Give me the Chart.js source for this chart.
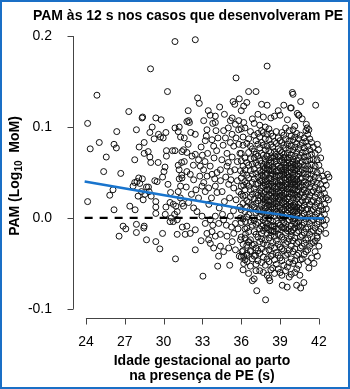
<!DOCTYPE html>
<html>
<head>
<meta charset="utf-8">
<script src="https://cdn.jsdelivr.net/npm/chart.js@4.4.1/dist/chart.umd.min.js"></script>
<style>
  html, body { margin: 0; padding: 0; background: #fff; }
  canvas { display: block; }
</style>
</head>
<body>
<canvas id="pamChart" width="350" height="389"></canvas>
<script>
// Eixos
const xTicks = [24, 27, 30, 33, 36, 39, 42];
const yTicks = [-0.1, 0.0, 0.1, 0.2];

// Casos até ~31 s, lidos ponto a ponto [idade gestacional, PAM]
const earlyCases = [
  [30.88,.194],[28.99,.164],[30.30,.139],[24.85,.135],[27.31,.117],[28.34,.110],[28.38,.111],[29.40,.110],
  [29.81,.108],[24.13,.104],[26.38,.095],[27.90,.097],[29.12,.100],[28.94,.094],[29.27,.087],[29.61,.092],
  [29.76,.089],[29.97,.088],[30.18,.094],[30.88,.099],[31.21,.100],[31.13,.095],[31.31,.089],[28.50,.083],
  [28.11,.078],[26.17,.081],[26.35,.077],[25.03,.083],[24.33,.076],[25.57,.067],[27.77,.064],[28.81,.073],
  [28.50,.071],[28.94,.067],[29.01,.061],[29.58,.061],[30.22,.068],[30.22,.074],[30.69,.074],[30.88,.074],
  [31.42,.073],[31.13,.058],[31.39,.061],[25.37,.051],[26.69,.049],[24.13,.018],[26.09,.031],[25.84,.025],
  [26.17,.009],[27.39,.013],[27.80,.009],[27.64,.035],[27.77,.039],[27.95,.040],[28.08,.044],[28.36,.043],
  [28.16,.038],[28.29,.029],[28.03,.024],[28.55,.026],[28.42,.020],[28.68,.034],[28.83,.034],[28.88,.029],
  [29.04,.024],[29.32,.041],[29.50,.040],[29.40,.018],[29.40,.012],[29.40,.005],[29.92,.045],[30.03,.051],
  [30.11,.056],[30.34,.037],[30.54,.028],[30.50,.017],[30.18,.012],[30.13,.004],[30.75,.015],[30.95,.013],
  [31.05,.007],[30.85,.004],[30.60,.000],[30.50,-.004],[30.75,-.004],[31.05,-.002],[31.21,.043],[31.31,.035],
  [31.13,.029],[26.87,-.009],[27.08,-.012],[26.56,-.020],[27.90,-.007],[28.50,-.009],[28.47,-.011],[27.90,-.016],
  [28.68,-.024],[29.40,-.026],[29.71,-.034],[29.92,-.017],[31.05,-.018],[30.92,-.045],[31.30,.022],[31.45,.016],
  [31.20,.053],[31.40,.047],[31.45,-.010]
];

// Casos entre ~31 e ~37 s e valores extremos
const midCases = [
  [32.45,.196],[35.60,.154],[38.00,.167],[32.63,.132],[32.76,.126],[35.37,.128],[35.50,.125],[34.33,.122],
  [36.19,.123],[33.60,.113],[34.00,.112],[33.10,.107],[33.80,.104],[34.00,.105],[31.80,.106],[32.00,.105],
  [31.93,.107],[35.16,.107],[35.55,.103],[35.81,.107],[36.19,.105],[32.45,.092],[33.35,.097],[33.30,.090],
  [33.22,.085],[33.74,.086],[33.87,.079],[34.64,.096],[34.78,.088],[35.29,.092],[35.16,.083],[35.42,.079],
  [35.81,.081],[31.54,.075],[31.80,.072],[32.20,.068],[32.45,.070],[32.70,.064],[32.84,.057],[33.09,.053],
  [33.36,.046],[33.74,.048],[34.13,.050],[34.39,.053],[34.90,.057],[35.16,.051],[31.80,.051],[32.06,.048],
  [31.42,.044],[32.32,.042],[32.97,.035],[33.22,.029],[33.48,.033],[34.00,.035],[34.13,.028],[34.52,.029],
  [35.03,.037],[35.42,.033],[35.81,.029],[36.19,.036],[31.54,.013],[31.93,.017],[32.32,.011],[32.58,.007],
  [32.97,.002],[33.22,-.006],[33.61,-.002],[34.00,.002],[34.26,-.006],[34.64,-.002],[35.16,.002],[35.55,-.006],
  [35.94,.000],[36.33,-.004],[31.80,-.009],[32.06,-.017],[31.67,-.018],[32.45,-.013],[33.35,-.017],[33.74,-.015],
  [33.48,-.024],[34.00,-.020],[34.39,-.018],[34.90,-.020],[35.42,-.017],[35.94,-.024],[36.33,-.018],[36.58,-.026],
  [33.61,-.028],[33.87,-.033],[34.39,-.031],[34.64,-.037],[35.03,-.033],[35.55,-.035],[36.07,-.037],[36.19,-.042],
  [36.45,-.041],[36.71,-.037],[37.10,-.041],[32.45,-.035],[34.18,-.053],[35.11,-.052],[36.19,-.050],[36.45,-.048],
  [33.04,-.064],[37.00,-.067],[37.20,-.080],[37.88,-.090],[38.21,-.069],[39.17,-.074],[39.55,-.076],[40.28,-.074],
  [40.59,-.077],[40.84,-.071],[40.53,-.063],[41.23,-.055],[39.95,.138],[40.00,.136],[40.59,.128],[41.75,.124],
  [39.81,.121],[40.33,.115],[40.46,.113],[41.03,.103],[41.10,.099],[41.23,.097],[41.88,.081],[41.96,.075],
  [42.14,.066],[42.66,.048],[42.78,.045],[42.74,.020],[42.53,-.017],[41.88,-.022],[42.00,-.031],[41.88,-.042],
  [41.62,-.050],[31.60,.088],[31.90,.081],[32.10,.094],[32.30,.058],[32.50,.031],[32.70,.022],[32.90,.078],
  [33.00,.069],[33.20,.062],[33.40,.071],[33.50,.015],[33.60,.057],[33.70,.022],[33.90,.066],[34.10,.074],
  [34.20,.088],[34.30,.011],[34.40,.041],[34.50,.064],[34.60,.080],[34.70,.018],[34.80,.045],[34.90,.071],
  [35.00,.099],[35.00,.061],[35.10,.022],[35.20,.042],[35.30,.067],[35.30,.110],[35.40,.008],[35.50,.053],
  [35.60,.088],[35.60,.020],[35.70,.062],[35.70,.041],[35.80,.097],[35.90,.071],[35.90,.012],[35.95,.052],
  [36.00,.118],[34.05,.096],[33.95,.043],[33.10,.039],[32.80,.046],[32.15,.026],[31.75,.034],[31.60,.062],
  [34.55,.004],[35.25,-.010],[35.75,-.012],[34.85,-.008],[33.80,-.008],[32.90,-.025],[35.30,-.026],[35.85,-.042],
  [34.25,-.042],[31.90,.118],[33.45,.118],[34.70,.114],[35.85,.131]
];

// Partos a termo: uma coluna por dia de idade gestacional
const termGA = [
  36.00,36.14,36.29,36.43,36.57,36.71,36.86,37.00,37.14,37.29,37.43,37.57,37.71,37.86,
  38.00,38.14,38.29,38.43,38.57,38.71,38.86,39.00,39.14,39.29,39.43,39.57,39.71,39.86,
  40.00,40.14,40.29,40.43,40.57,40.71,40.86,41.00,41.14,41.29,41.43,41.57,41.71,41.86,
  42.00,42.14,42.29,42.43,42.57
];
const termPAM = [
  [.098,.071,.063,.044,.035,.026,.009,-.005,-.021,-.043],
  [.089,.080,.057,.049,.024,.016,-.001,-.029,-.036,-.057],
  [.099,.066,.053,.040,.031,.025,.007,-.012,-.022,-.046],
  [.127,.082,.061,.047,.038,.019,.012,.001,-.011,-.030,-.039],
  [.139,.087,.072,.058,.044,.035,.017,.004,-.015,-.027,-.061],
  [.095,.079,.065,.052,.031,.023,.010,-.004,-.024,-.036,-.053],
  [.109,.076,.059,.048,.039,.026,.014,.000,-.008,-.030,-.045,-.069],
  [.104,.091,.073,.066,.054,.043,.032,.021,.012,-.003,-.015,-.029,-.042],
  [.139,.085,.070,.061,.049,.037,.028,.016,.006,-.007,-.018,-.033,-.051,-.058],
  [.114,.093,.081,.068,.058,.045,.038,.025,.019,.008,-.005,-.021,-.036,-.047],
  [.102,.089,.077,.063,.052,.041,.030,.022,.010,.001,-.012,-.026,-.039,-.058],
  [.125,.096,.083,.071,.060,.050,.042,.033,.024,.014,.004,-.009,-.023,-.034,-.049,.029,.047,.008,-.017],
  [.111,.094,.080,.069,.057,.046,.039,.027,.017,.007,-.002,-.014,-.028,-.043,-.060,.053,.021,.035,-.008],
  [.100,.087,.075,.065,.055,.047,.036,.029,.020,.011,.000,-.011,-.024,-.037,-.052,.042,.016,.061,-.004],
  [.124,.092,.079,.068,.058,.049,.040,.031,.023,.013,.005,-.006,-.017,-.030,-.045,-.063,.037,.054,.019,-.011],
  [.098,.086,.074,.064,.053,.044,.035,.026,.018,.009,-.001,-.013,-.022,-.035,-.048,-.066,.031,.058,.006,.014],
  [.110,.093,.081,.072,.061,.052,.043,.037,.028,.019,.012,.003,-.008,-.019,-.031,-.042,-.057,.047,.024,.066,-.014],
  [.090,.078,.066,.056,.048,.039,.030,.022,.015,.006,-.004,-.015,-.027,-.040,-.055,.035,.052,.011,-.009],
  [.112,.084,.073,.062,.054,.045,.034,.027,.019,.010,.002,-.009,-.020,-.033,-.046,-.061,.040,.023,.068,-.015],
  [.095,.082,.070,.059,.051,.041,.032,.024,.016,.007,-.003,-.012,-.025,-.038,-.051,.028,.046,.063,.012],
  [.118,.088,.076,.067,.057,.047,.038,.029,.021,.013,.004,-.006,-.018,-.029,-.041,-.056,.034,.052,-.012,.017],
  [.113,.085,.074,.063,.055,.046,.036,.028,.020,.011,.002,-.008,-.019,-.032,-.044,-.060,.041,.024,.068,.006],
  [.094,.083,.072,.064,.056,.048,.040,.033,.025,.017,.009,.000,-.010,-.021,-.034,-.047,-.063,.029,.052,.004,.036],
  [.124,.091,.080,.070,.061,.053,.044,.035,.027,.018,.010,.001,-.011,-.024,-.036,-.052,.048,.022,.066,-.005],
  [.099,.087,.077,.067,.058,.050,.042,.034,.026,.019,.012,.003,-.007,-.016,-.028,-.041,-.058,.038,.055,.015,-.012],
  [.108,.081,.071,.060,.051,.043,.036,.028,.021,.013,.005,-.004,-.014,-.026,-.039,-.054,.032,.047,.009,.064],
  [.096,.085,.075,.066,.057,.049,.041,.032,.023,.015,.007,-.002,-.012,-.023,-.035,-.049,-.065,.027,.045,.061,.011],
  [.121,.090,.079,.069,.059,.050,.042,.034,.026,.018,.009,.001,-.009,-.020,-.031,-.045,-.062,.038,.055,.013,-.015],
  [.097,.086,.075,.065,.056,.047,.039,.031,.022,.014,.006,-.003,-.013,-.025,-.037,-.050,.043,.027,.061,.002],
  [.101,.089,.078,.068,.058,.049,.040,.032,.025,.016,.008,-.001,-.011,-.022,-.034,-.047,-.060,.036,.053,.012,-.006],
  [.093,.082,.072,.063,.054,.046,.037,.029,.021,.012,.004,-.006,-.016,-.028,-.041,-.056,.042,.025,.059,.008],
  [.113,.087,.076,.066,.057,.048,.039,.030,.023,.015,.006,-.004,-.014,-.026,-.039,-.052,.035,.052,.011,-.009],
  [.091,.080,.069,.060,.051,.043,.034,.026,.017,.009,.000,-.010,-.021,-.033,-.046],
  [.109,.083,.072,.062,.053,.044,.036,.028,.019,.011,.002,-.008,-.019,-.031,-.045],
  [.088,.077,.067,.058,.049,.040,.031,.023,.014,.005,-.005,-.016,-.028,-.040],
  [.096,.084,.073,.063,.054,.045,.036,.027,.018,.009,-.001,-.012,-.024,-.037],
  [.092,.079,.068,.057,.048,.038,.029,.020,.010,.001,-.010,-.022,-.035,-.048],
  [.087,.075,.064,.053,.043,.034,.025,.015,.005,-.006,-.018,-.031],
  [.083,.070,.059,.048,.038,.028,.018,.008,-.003,-.015,-.028,-.044],
  [.078,.064,.052,.041,.030,.019,.009,-.002,-.014,-.027],
  [.071,.057,.045,.034,.023,.012,.001,-.011,-.025,-.037],
  [.064,.050,.038,.027,.016,.005,-.007,-.020],
  [.058,.044,.031,.019,.008,-.004,-.015],
  [.052,.037,.025,.013,.001,-.012],
  [.046,.032,.021,.009,-.003],
  [.041,.027,.015,.004,-.008],
  [.036,.022,.010,-.002]
];

// Curva de tendência (azul) e referência em zero (tracejada)
const trendGA = [23.9, 31.3, 35.0, 37.1, 38.65, 39.8, 40.5, 42.4];
const trendPAM = [0.040, 0.022, 0.013, 0.0073, 0.0045, 0.0018, 0.0, -0.0005];
const refGA = [23.9, 42.4];
const refPAM = [0, 0];

const FONT = '"Liberation Sans", Arial, Helvetica, sans-serif';
Chart.defaults.font.family = FONT;
Chart.defaults.color = '#000';

const scatterPoints = earlyCases.concat(midCases).map(p => ({ x: p[0], y: p[1] }));
termGA.forEach((ga, i) => termPAM[i].forEach(v => scatterPoints.push({ x: ga, y: v })));

// Eixos no estilo do R, títulos e moldura
const decor = {
  id: 'decor',
  beforeDatasetsDraw(chart) {
    const { ctx, chartArea, scales: { x, y } } = chart;
    ctx.save();
    ctx.strokeStyle = '#444';
    ctx.lineWidth = 1;
    ctx.beginPath();
    const ax = Math.round(chartArea.left) + 0.5;
    ctx.moveTo(ax, y.getPixelForValue(yTicks[0]));
    ctx.lineTo(ax, y.getPixelForValue(yTicks[yTicks.length - 1]));
    yTicks.forEach(v => {
      const p = Math.round(y.getPixelForValue(v)) + 0.5;
      ctx.moveTo(ax, p); ctx.lineTo(ax - 6, p);
    });
    const ay = Math.round(chartArea.bottom) + 0.5;
    ctx.moveTo(x.getPixelForValue(xTicks[0]), ay);
    ctx.lineTo(x.getPixelForValue(xTicks[xTicks.length - 1]), ay);
    xTicks.forEach(v => {
      const p = Math.round(x.getPixelForValue(v)) + 0.5;
      ctx.moveTo(p, ay); ctx.lineTo(p, ay + 6);
    });
    ctx.stroke();
    ctx.restore();
  },
  afterDraw(chart) {
    const { ctx } = chart;
    ctx.save();
    ctx.fillStyle = '#000';
    ctx.font = 'bold 14px ' + FONT;
    ctx.textAlign = 'center';
    ctx.textBaseline = 'alphabetic';
    ctx.fillText('PAM às 12 s nos casos que desenvolveram PE', 188, 20);
    ctx.fillText('Idade gestacional ao parto', 202, 365);
    ctx.fillText('na presença de PE (s)', 202, 380);

    // título do eixo y com subscrito
    ctx.translate(18.5, 176);
    ctx.rotate(-Math.PI / 2);
    const partA = 'PAM (Log', sub = '10', partB = '  MoM)';
    ctx.font = 'bold 14px ' + FONT;
    const wA = ctx.measureText(partA).width, wB = ctx.measureText(partB).width;
    ctx.font = 'bold 10px ' + FONT;
    const wS = ctx.measureText(sub).width;
    let cx = -(wA + wS + wB) / 2;
    ctx.textAlign = 'left';
    ctx.font = 'bold 14px ' + FONT;
    ctx.fillText(partA, cx, 0);
    cx += wA;
    ctx.font = 'bold 10px ' + FONT;
    ctx.fillText(sub, cx, 3);
    cx += wS;
    ctx.font = 'bold 14px ' + FONT;
    ctx.fillText(partB, cx, 0);
    ctx.restore();

    ctx.save();
    ctx.strokeStyle = '#1a6fc6';
    ctx.lineWidth = 2;
    ctx.strokeRect(1, 1, chart.width - 2, chart.height - 2);
    ctx.restore();
  }
};

new Chart(document.getElementById('pamChart'), {
  type: 'scatter',
  data: {
    datasets: [
      {
        type: 'line',
        data: trendGA.map((g, i) => ({ x: g, y: trendPAM[i] })),
        borderColor: '#1874CD',
        borderWidth: 2.5,
        pointRadius: 0,
        tension: 0.2,
        fill: false
      },
      {
        type: 'line',
        data: refGA.map((g, i) => ({ x: g, y: refPAM[i] })),
        borderColor: '#000',
        borderWidth: 2.2,
        borderDash: [8, 7],
        pointRadius: 0,
        fill: false
      },
      {
        data: scatterPoints,
        pointRadius: 3,
        pointBorderWidth: 1,
        pointBorderColor: '#111',
        pointBackgroundColor: 'rgba(0,0,0,0)'
      }
    ]
  },
  options: {
    responsive: false,
    animation: false,
    events: [],
    layout: { padding: { top: 27, right: 13, left: 0, bottom: 0 } },
    plugins: { legend: { display: false }, tooltip: { enabled: false }, title: { display: false } },
    scales: {
      x: {
        type: 'linear',
        min: 23.0,
        max: 43.4,
        grid: { display: false },
        border: { display: false },
        afterBuildTicks: s => { s.ticks = xTicks.map(v => ({ value: v })); },
        afterFit: s => { s.height = 71; },
        ticks: { font: { size: 14 }, color: '#000', padding: 8, maxRotation: 0, autoSkip: false }
      },
      y: {
        min: -0.110,
        max: 0.210,
        grid: { display: false },
        border: { display: false },
        afterBuildTicks: s => { s.ticks = yTicks.map(v => ({ value: v })); },
        afterFit: s => { s.width = 73; },
        ticks: { font: { size: 14 }, color: '#000', padding: 13, callback: v => v.toFixed(1) }
      }
    }
  },
  plugins: [decor]
});
</script>
</body>
</html>
